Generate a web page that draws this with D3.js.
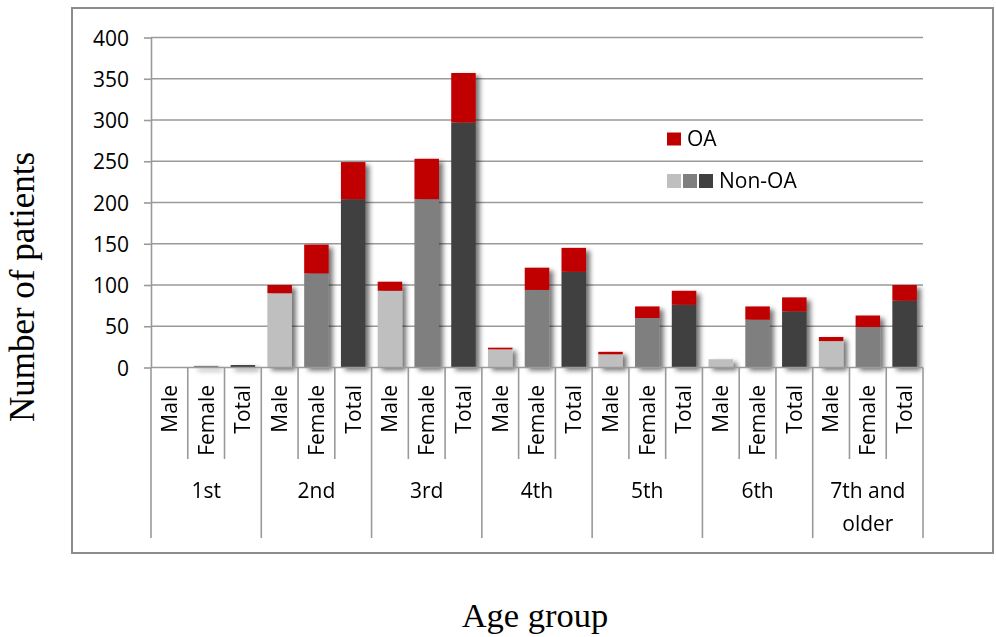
<!DOCTYPE html>
<html>
<head>
<meta charset="utf-8">
<script src="https://cdn.jsdelivr.net/npm/d3@7/dist/d3.min.js"></script>
<style>
  html, body { margin: 0; padding: 0; background: #fff; }
  svg { display: block; }
</style>
</head>
<body>
<svg id="chart" width="996" height="637"></svg>
<script>
// Age groups and the three bars drawn inside each group
const ageGroups = ["1st", "2nd", "3rd", "4th", "5th", "6th", "7th and older"];
const subGroups = ["Male", "Female", "Total"];

// Patients without OA (bottom segment), per age group: [Male, Female, Total]
const nonOA = [
  [0, 2, 3],
  [90, 114, 204],
  [93, 204, 297],
  [22, 94, 116],
  [16, 60, 76],
  [10, 58, 68],
  [32, 49, 81]
];
// Patients with OA (top segment), per age group: [Male, Female, Total]
const withOA = [
  [0, 0, 0],
  [10, 35, 45],
  [11, 49, 60],
  [2, 27, 29],
  [3, 14, 17],
  [0, 16, 17],
  [5, 14, 19]
];
const yTicks = [0, 50, 100, 150, 200, 250, 300, 350, 400];

const nonOAColors = { Male: "#bfbfbf", Female: "#7f7f7f", Total: "#404040" };
const oaColor = "#c00000";
const gridColor = "#9a9a9a";
const textColor = "#000";

const svg = d3.select("#chart");

// Outer frame
svg.append("rect")
  .attr("x", 72).attr("y", 8).attr("width", 921).attr("height", 545)
  .attr("fill", "#fff").attr("stroke", "#8c8c8c").attr("stroke-width", 2);

const plot = { left: 151, right: 923, top: 37.5, bottom: 367.5 };

const y = d3.scaleLinear().domain([0, 400]).range([plot.bottom, plot.top]);
const xGroup = d3.scaleBand().domain(ageGroups).range([plot.left, plot.right]).padding(0);
const xSub = d3.scaleBand().domain(subGroups).range([0, xGroup.bandwidth()])
  .paddingInner(1 / 3).paddingOuter(1 / 6);
const subStep = xSub.step();

// Soft shadow under the bars
const defs = svg.append("defs");
const f = defs.append("filter").attr("id", "barShadow")
  .attr("x", "-30%").attr("y", "-10%").attr("width", "180%").attr("height", "130%");
f.append("feGaussianBlur").attr("in", "SourceAlpha").attr("stdDeviation", 2.6).attr("result", "blur");
f.append("feOffset").attr("in", "blur").attr("dx", 4).attr("dy", 3).attr("result", "off");
f.append("feComponentTransfer").attr("in", "off").attr("result", "shadow")
  .append("feFuncA").attr("type", "linear").attr("slope", 0.55);
const merge = f.append("feMerge");
merge.append("feMergeNode").attr("in", "shadow");
merge.append("feMergeNode").attr("in", "SourceGraphic");

// Horizontal gridlines
svg.append("g")
  .selectAll("line").data(yTicks.filter(d => d > 0)).join("line")
  .attr("x1", plot.left).attr("x2", plot.right)
  .attr("y1", d => y(d)).attr("y2", d => y(d))
  .attr("stroke", gridColor).attr("stroke-width", 1.6);

// Y axis with outward ticks
const yAxis = svg.append("g")
  .attr("transform", `translate(${plot.left},0)`)
  .call(d3.axisLeft(y).tickValues(yTicks).tickSize(7).tickPadding(15).tickSizeOuter(0));
yAxis.select(".domain").attr("stroke", gridColor).attr("stroke-width", 1.6);
yAxis.selectAll(".tick line").attr("stroke", gridColor).attr("stroke-width", 1.6);
yAxis.selectAll(".tick text")
  .attr("font-family", "'Open Sans', sans-serif").attr("font-size", 21).attr("fill", textColor)
  .attr("dy", "0.36em");

// Stacked bars
const rows = [];
ageGroups.forEach((g, gi) => {
  subGroups.forEach((s, si) => {
    rows.push({ group: g, sub: s, base: nonOA[gi][si], top: withOA[gi][si] });
  });
});

const bars = svg.append("g").attr("filter", "url(#barShadow)");
const barG = bars.selectAll("g").data(rows).join("g")
  .attr("transform", d => `translate(${xGroup(d.group) + xSub(d.sub)},0)`);
barG.append("rect")
  .attr("x", 0).attr("width", xSub.bandwidth())
  .attr("y", d => y(d.base)).attr("height", d => y(0) - y(d.base))
  .attr("fill", d => nonOAColors[d.sub]);
barG.append("rect")
  .attr("x", 0).attr("width", xSub.bandwidth())
  .attr("y", d => y(d.base + d.top)).attr("height", d => y(d.base) - y(d.base + d.top))
  .attr("fill", oaColor);

// X axis baseline
svg.append("line")
  .attr("x1", plot.left).attr("x2", plot.right)
  .attr("y1", y(0)).attr("y2", y(0))
  .attr("stroke", gridColor).attr("stroke-width", 1.6);

// Category separators: short between sub-bars, long between age groups
const axisG = svg.append("g");
ageGroups.forEach(g => {
  const gx = xGroup(g);
  [1, 2].forEach(i => {
    axisG.append("line")
      .attr("x1", gx + i * subStep).attr("x2", gx + i * subStep)
      .attr("y1", y(0)).attr("y2", 459)
      .attr("stroke", gridColor).attr("stroke-width", 1.6);
  });
});
ageGroups.map(g => xGroup(g)).concat([xGroup.range()[1]]).forEach(gx => {
  axisG.append("line")
    .attr("x1", gx).attr("x2", gx)
    .attr("y1", y(0)).attr("y2", 538)
    .attr("stroke", gridColor).attr("stroke-width", 1.6);
});

// Rotated sub-category labels
const labelFont = "'Open Sans', sans-serif";
rows.forEach(d => {
  const cx = xGroup(d.group) + xSub(d.sub) + xSub.bandwidth() / 2;
  axisG.append("text")
    .attr("transform", `translate(${cx},385) rotate(-90)`)
    .attr("text-anchor", "end").attr("dy", "0.35em")
    .attr("font-family", labelFont).attr("font-size", 21).attr("fill", textColor)
    .text(d.sub);
});

// Age group labels (wrapped onto two lines where needed)
const groupLines = { "7th and older": ["7th and", "older"] };
ageGroups.forEach(g => {
  const cx = xGroup(g) + xGroup.bandwidth() / 2;
  const lines = groupLines[g] || [g];
  const t = axisG.append("text")
    .attr("text-anchor", "middle")
    .attr("font-family", labelFont).attr("font-size", 21).attr("fill", textColor);
  lines.forEach((ln, i) => {
    t.append("tspan").attr("x", cx).attr("y", 498 + i * 33).text(ln);
  });
});

// Legend
const legend = svg.append("g").attr("font-family", labelFont).attr("font-size", 21).attr("fill", textColor);
legend.append("rect").attr("x", 667).attr("y", 132.5).attr("width", 14).attr("height", 13).attr("fill", oaColor);
legend.append("text").attr("x", 687).attr("y", 146).text("OA");
subGroups.forEach((s, i) => {
  legend.append("rect").attr("x", 667 + i * 16).attr("y", 174).attr("width", 14).attr("height", 14)
    .attr("fill", nonOAColors[s]);
});
legend.append("text").attr("x", 719).attr("y", 187.5).text("Non-OA");

// Axis titles
const titleFont = "'Liberation Serif', 'DejaVu Serif', serif";
svg.append("text")
  .attr("transform", "translate(34,287) rotate(-90)")
  .attr("text-anchor", "middle")
  .attr("font-family", titleFont).attr("font-size", 35).attr("fill", textColor)
  .text("Number of patients");
svg.append("text")
  .attr("x", 535).attr("y", 627)
  .attr("text-anchor", "middle")
  .attr("font-family", titleFont).attr("font-size", 34.5).attr("fill", textColor)
  .text("Age group");
</script>
</body>
</html>
